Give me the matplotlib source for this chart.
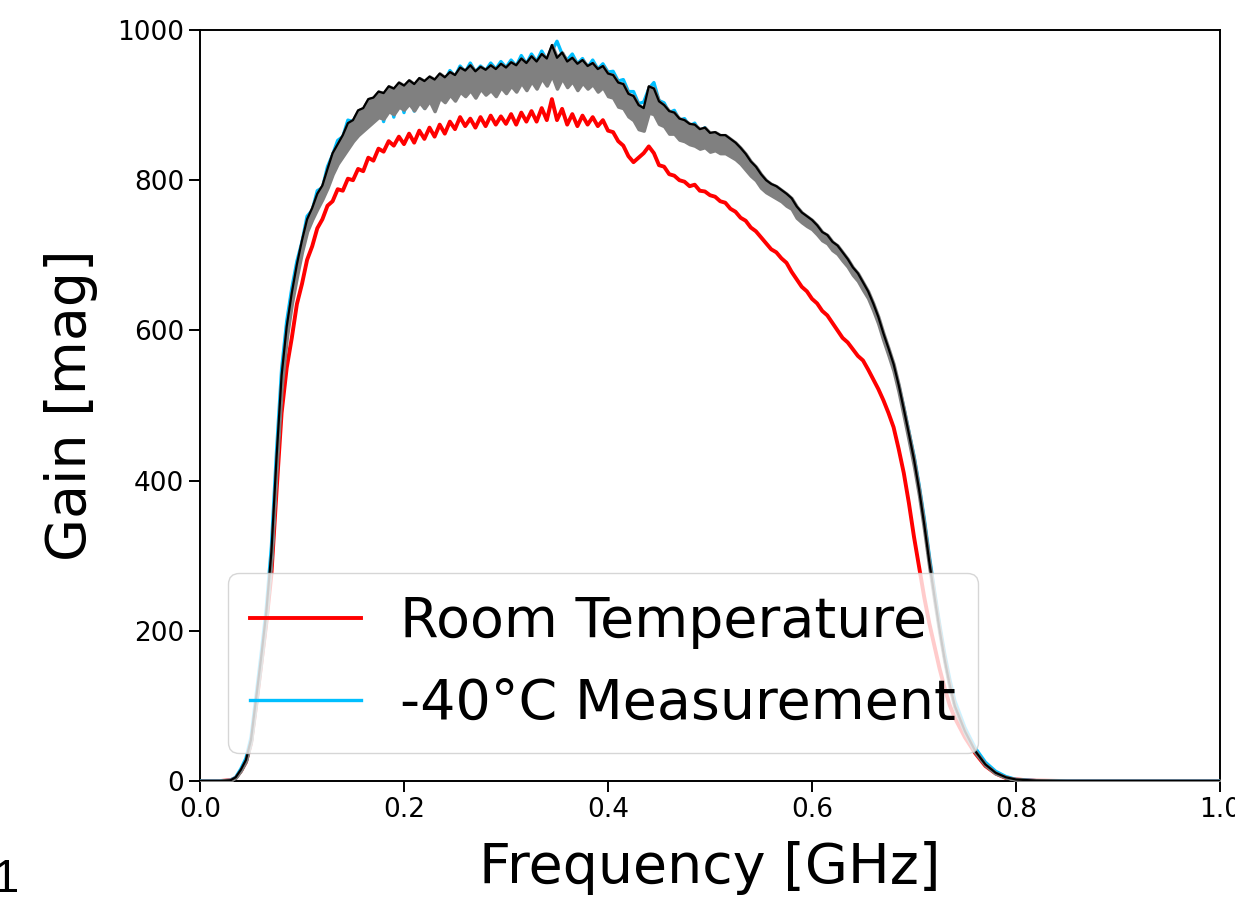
import numpy as np
import matplotlib.pyplot as plt

# frequency grid [GHz]: coarse head, 0.005 steps over the pass band, coarse tail
freq_head = [0.00, 0.02, 0.03, 0.035, 0.04, 0.045, 0.05, 0.055, 0.06, 0.065,
             0.07, 0.075, 0.08, 0.085, 0.09, 0.095]
freq_mid = np.round(np.arange(0.100, 0.7001, 0.005), 3)
freq_tail = [0.705, 0.71, 0.715, 0.72, 0.725, 0.73, 0.735, 0.74, 0.75, 0.76,
             0.77, 0.78, 0.79, 0.80, 0.82, 0.85, 1.00]

# room temperature gain
red_head = [0, 0, 1, 4, 13, 25, 50, 100, 155, 210, 275, 385, 490, 550, 590, 635]
red_mid = [662, 694, 712, 736, 748, 766, 772, 788, 786, 802,
           800, 815, 812, 830, 826, 842, 838, 852, 846, 858,
           848, 862, 850, 866, 855, 870, 858, 874, 862, 878,
           868, 884, 872, 882, 870, 884, 872, 886, 874, 885,
           875, 888, 874, 890, 878, 892, 878, 896, 880, 908,
           880, 895, 874, 888, 872, 886, 874, 884, 872, 880,
           866, 864, 852, 846, 832, 824, 830, 836, 845, 836,
           820, 818, 808, 806, 800, 798, 792, 794, 786, 785,
           780, 778, 772, 770, 762, 758, 750, 746, 737, 732,
           724, 716, 708, 704, 696, 690, 678, 668, 658, 652,
           642, 636, 626, 620, 610, 600, 590, 584, 575, 566,
           560, 548, 535, 522, 507, 490, 471, 442, 410, 370,
           325]
red_tail = [285, 245, 210, 180, 150, 124, 101, 84, 58, 37, 20, 10, 4, 2, 0.3, 0, 0]

# -40C measurement (blue trace)
blue_head = [0, 0, 1, 5, 16, 30, 58, 114, 170, 230, 312, 438, 548, 612, 656, 692]
blue_mid = [718, 752, 760, 786, 790, 818, 834, 853, 858, 880,
            878, 890, 872, 900, 880, 912, 878, 915, 884, 920,
            890, 925, 892, 930, 896, 935, 905, 940, 932, 946,
            938, 952, 944, 956, 944, 952, 946, 956, 948, 958,
            950, 960, 952, 966, 955, 968, 958, 972, 960, 972,
            985, 968, 960, 968, 955, 962, 950, 960, 948, 955,
            944, 945, 932, 934, 918, 918, 902, 904, 922, 930,
            906, 903, 890, 893, 880, 882, 872, 876, 864, 870,
            860, 862, 857, 858, 850, 846, 838, 830, 818, 812,
            800, 794, 788, 786, 780, 776, 768, 758, 750, 746,
            740, 734, 724, 722, 712, 708, 698, 690, 678, 672,
            658, 648, 632, 614, 594, 574, 553, 527, 497, 465,
            433]
blue_tail = [394, 350, 300, 254, 210, 170, 136, 107, 71, 44, 25, 13, 6, 2, 0.5, 0, 0]

# other cold runs: lower edge of the gray band
gray_head = [0, 0, 1, 5, 14, 27, 53, 106, 160, 218, 296, 418, 525, 590, 636, 672]
gray_mid = [705, 732, 748, 762, 775, 790, 808, 822, 832, 842,
            852, 860, 866, 872, 878, 884, 882, 892, 888, 898,
            894, 902, 893, 904, 896, 906, 892, 910, 904, 914,
            906, 918, 912, 920, 910, 922, 914, 920, 912, 924,
            916, 926, 918, 930, 920, 932, 922, 936, 926, 940,
            922, 936, 924, 932, 920, 930, 922, 928, 918, 924,
            912, 910, 898, 896, 885, 880, 868, 866, 890, 888,
            875, 872, 862, 862, 854, 852, 848, 846, 842, 844,
            838, 840, 836, 836, 832, 828, 822, 814, 806, 800,
            790, 784, 780, 776, 772, 766, 762, 750, 744, 739,
            735, 728, 720, 716, 707, 702, 693, 685, 674, 666,
            654, 643, 627, 609, 587, 567, 546, 518, 486, 453,
            419]
gray_tail = [380, 334, 285, 240, 197, 158, 124, 97, 64, 38, 21, 10, 5, 2, 0.5, 0, 0]

# black trace (top edge of the band)
black_head = [0, 0, 1, 5, 15, 28, 55, 110, 165, 225, 305, 430, 540, 605, 650, 688]
black_mid = [720, 748, 763, 782, 793, 815, 836, 848, 860, 876,
             880, 893, 896, 908, 910, 918, 916, 925, 922, 930,
             926, 933, 928, 936, 932, 938, 934, 942, 937, 944,
             940, 950, 946, 953, 945, 951, 947, 953, 948, 955,
             950, 957, 953, 962, 956, 965, 958, 968, 962, 980,
             963, 970, 958, 963, 955, 960, 952, 956, 948, 952,
             942, 940, 930, 928, 915, 912, 900, 896, 925, 922,
             905, 900, 892, 890, 882, 880, 875, 874, 868, 870,
             863, 864, 860, 860, 855, 850, 843, 835, 825, 818,
             808, 800, 795, 792, 787, 782, 776, 765, 757, 752,
             747, 740, 731, 727, 718, 713, 704, 695, 684, 676,
             664, 652, 636, 618, 596, 576, 555, 527, 495, 462,
             428]
black_tail = [388, 342, 292, 246, 202, 162, 128, 100, 66, 40, 22, 11, 5, 2, 0.5, 0, 0]

freq = np.concatenate([freq_head, freq_mid, freq_tail])
red = np.concatenate([red_head, red_mid, red_tail])
blue = np.concatenate([blue_head, blue_mid, blue_tail])
gray_lo = np.concatenate([gray_head, gray_mid, gray_tail])
black = np.concatenate([black_head, black_mid, black_tail])

fig = plt.figure(figsize=(12.35, 8.97), dpi=100)
ax = fig.add_axes([200/1235, 1 - 781/897, 1020/1235, 751/897])

ax.plot(freq, red, color='red', lw=2.8, label='Room Temperature', zorder=2)
ax.plot(freq, blue, color='deepskyblue', lw=2.4, label='-40°C Measurement', zorder=3)
ax.fill_between(freq, gray_lo, black, color='gray', lw=2.5, edgecolor='gray', zorder=4)
ax.plot(freq, black, color='black', lw=1.6, zorder=5)

ax.set_xlim(0, 1.0)
ax.set_ylim(0, 1000)
ax.set_xticks([0.0, 0.2, 0.4, 0.6, 0.8, 1.0])
ax.set_yticks([0, 200, 400, 600, 800, 1000])
ax.tick_params(labelsize=19, length=8, width=1.4)
for s in ax.spines.values():
    s.set_linewidth(1.4)

ax.set_xlabel('Frequency [GHz]', fontsize=40, labelpad=13)
ax.set_ylabel('Gain [mag]', fontsize=40, labelpad=14)
ax.legend(loc='lower left', fontsize=40, handletextpad=0.7)

fig.text(-0.006, 0.006, '1', fontsize=34, family='Liberation Sans')

fig.savefig('out.png', dpi=100)
